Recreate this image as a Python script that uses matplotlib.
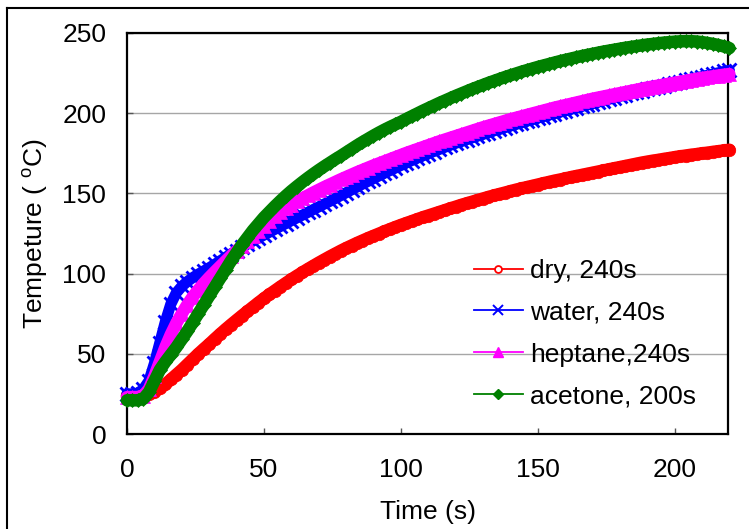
import numpy as np
import matplotlib
matplotlib.use("Agg")
import matplotlib.pyplot as plt
from matplotlib.lines import Line2D

plt.rcParams['font.family'] = ['Liberation Sans', 'DejaVu Sans']
plt.rcParams['mathtext.fontset'] = 'custom'
plt.rcParams['mathtext.rm'] = 'Liberation Sans'
plt.rcParams['mathtext.it'] = 'Liberation Sans:italic'

# time axis, one reading every 2 s
time_s = list(range(0, 222, 2))

dry = [24.0, 24.0, 24.0, 24.3, 25.0, 26.2, 28.5, 31.0, 34.0, 37.0,
       40.0, 43.3, 46.6, 49.9, 53.0, 56.0, 59.2, 62.3, 65.3, 68.2,
       71.0, 73.8, 76.5, 79.2, 81.9, 84.5, 87.0, 89.4, 91.8, 94.1,
       96.4, 98.6, 100.7, 102.8, 104.8, 106.8, 108.7, 110.6, 112.4, 114.2,
       115.9, 117.5, 119.1, 120.6, 122.1, 123.5, 124.9, 126.3, 127.7, 129.0,
       130.3, 131.5, 132.7, 133.9, 135.1, 136.2, 137.3, 138.4, 139.5, 140.6,
       141.7, 142.8, 143.8, 144.8, 145.8, 146.8, 147.8, 148.7, 149.6, 150.5,
       151.4, 152.3, 153.1, 153.9, 154.7, 155.5, 156.3, 157.1, 157.9, 158.6,
       159.3, 160.1, 160.8, 161.5, 162.2, 162.9, 163.6, 164.3, 165.0, 165.7,
       166.4, 167.1, 167.8, 168.5, 169.2, 169.8, 170.4, 170.9, 171.5, 172.0,
       172.6, 173.1, 173.6, 174.1, 174.5, 175.0, 175.4, 175.9, 176.3, 176.8,
       177.2]

water = [25.0, 25.0, 25.5, 28.0, 33.0, 44.0, 57.0, 70.0, 81.0, 88.0,
         92.0, 95.0, 97.5, 99.6, 101.6, 103.6, 105.7, 107.9, 110.1, 112.3,
         114.4, 116.4, 118.4, 120.3, 122.2, 124.0, 125.8, 127.6, 129.4, 131.2,
         133.0, 134.7, 136.4, 138.1, 139.9, 141.6, 143.3, 145.0, 146.8, 148.6,
         150.4, 152.2, 154.0, 155.8, 157.5, 159.2, 160.9, 162.6, 164.2, 165.8,
         167.4, 169.0, 170.5, 172.0, 173.4, 174.8, 176.1, 177.4, 178.7, 180.0,
         181.2, 182.4, 183.5, 184.6, 185.7, 186.8, 187.9, 189.0, 190.0, 191.0,
         192.0, 193.0, 194.0, 195.0, 196.0, 197.0, 197.9, 198.8, 199.7, 200.6,
         201.5, 202.4, 203.3, 204.2, 205.1, 206.0, 206.9, 207.8, 208.7, 209.6,
         210.5, 211.4, 212.3, 213.2, 214.0, 214.8, 215.6, 216.4, 217.2, 218.0,
         218.8, 219.6, 220.4, 221.2, 222.0, 222.8, 223.6, 224.4, 225.2, 226.0,
         226.7]

heptane = [23.0, 23.0, 23.0, 24.0, 28.0, 36.0, 45.0, 54.0, 62.0, 69.0,
           75.0, 80.5, 85.5, 89.8, 93.8, 97.5, 101.0, 104.4, 107.8, 111.1,
           114.3, 117.4, 120.5, 123.6, 126.7, 129.8, 132.8, 135.6, 138.2, 140.7,
           143.0, 145.0, 146.9, 148.7, 150.5, 152.2, 153.9, 155.5, 157.1, 158.7,
           160.2, 161.7, 163.2, 164.6, 166.0, 167.4, 168.7, 170.0, 171.3, 172.6,
           173.9, 175.2, 176.4, 177.6, 178.8, 180.0, 181.2, 182.4, 183.5, 184.6,
           185.7, 186.8, 187.9, 189.0, 190.1, 191.2, 192.2, 193.2, 194.2, 195.2,
           196.2, 197.1, 198.0, 198.9, 199.8, 200.7, 201.6, 202.5, 203.4, 204.2,
           205.0, 205.8, 206.6, 207.4, 208.2, 209.0, 209.7, 210.4, 211.1, 211.8,
           212.5, 213.2, 213.9, 214.6, 215.3, 216.0, 216.6, 217.2, 217.8, 218.4,
           219.0, 219.6, 220.2, 220.8, 221.4, 222.0, 222.5, 223.0, 223.5, 224.0,
           224.4]

acetone = [21.0, 21.0, 21.0, 22.0, 26.0, 33.0, 40.0, 45.0, 49.5, 54.0,
           59.0, 64.0, 69.5, 75.0, 80.5, 86.0, 91.5, 97.0, 102.5, 108.0,
           113.0, 118.0, 122.5, 127.0, 131.0, 135.0, 138.5, 142.0, 145.3, 148.5,
           151.5, 154.3, 157.0, 159.6, 162.1, 164.5, 166.8, 169.0, 171.2, 173.3,
           175.5, 177.7, 179.9, 182.0, 184.0, 186.0, 187.9, 189.7, 191.4, 193.0,
           194.6, 196.4, 198.1, 199.8, 201.5, 203.1, 204.7, 206.3, 207.8, 209.3,
           210.8, 212.2, 213.6, 215.0, 216.3, 217.6, 218.9, 220.1, 221.3, 222.5,
           223.6, 224.7, 225.8, 226.8, 227.8, 228.8, 229.7, 230.6, 231.5, 232.4,
           233.2, 234.0, 234.8, 235.6, 236.3, 237.0, 237.7, 238.4, 239.0, 239.6,
           240.2, 240.8, 241.3, 241.8, 242.3, 242.8, 243.2, 243.6, 244.0, 244.3,
           244.6, 244.8, 244.9, 244.9, 244.7, 244.3, 243.8, 243.2, 242.5, 241.6,
           240.6]

labels = ["dry, 240s", "water, 240s", "heptane,240s", "acetone, 200s"]
colors = ["#ff0000", "#0000ff", "#ff00ff", "#008000"]
x_ticks = [0, 50, 100, 150, 200]
y_ticks = [0, 50, 100, 150, 200, 250]

FS = 19
W, H = 749, 529
fig = plt.figure(figsize=(W / 100, H / 100), dpi=100)
ax = fig.add_axes([127 / W, 1 - 434 / H, 601 / W, 401 / H])

series = [dry, water, heptane, acetone]
# dense markers over a thick line form the broad traces
styles = [
    dict(marker="o", ms=9.0, mfc=colors[0], mec=colors[0], mew=0.5, lw=9.0),
    dict(marker="x", ms=10.0, mfc=colors[1], mec=colors[1], mew=2.0, lw=8.0),
    dict(marker="^", ms=10.0, mfc=colors[2], mec=colors[2], mew=0.5, lw=9.0),
    dict(marker="D", ms=7.5, mfc=colors[3], mec=colors[3], mew=0.5, lw=9.0),
]
for vals, c, st in zip(series, colors, styles):
    ax.plot(time_s, vals, color=c, clip_on=False, zorder=3,
            solid_capstyle="round", solid_joinstyle="round", **st)

ax.set_xlim(0, 219.5)
ax.set_ylim(0, 250)
ax.set_xticks(x_ticks)
ax.set_yticks(y_ticks)
ax.yaxis.grid(True, color="#a6a6a6", lw=1.0, zorder=0)
ax.set_axisbelow(True)
for s in ax.spines.values():
    s.set_linewidth(1.6)
    s.set_color("black")
ax.tick_params(axis="both", direction="in", length=4, width=1.0, color="#555555",
               labelsize=FS)
ax.tick_params(axis="x", pad=17)
ax.tick_params(axis="y", pad=15)

ax.set_xlabel("Time (s)", fontsize=FS)
ax.set_ylabel(r"Tempeture ( $^{\mathrm{o}}$C)", fontsize=FS)
ax.xaxis.set_label_coords(0.5, -0.165)
ax.yaxis.set_label_coords(-0.128, 0.5)

# legend keys: thin line with a small marker
handles = [
    Line2D([], [], color=colors[0], lw=1.3, marker="o", ms=5, mfc="white", mec=colors[0], mew=1.3),
    Line2D([], [], color=colors[1], lw=1.3, marker="x", ms=6.5, mec=colors[1], mew=1.4),
    Line2D([], [], color=colors[2], lw=1.3, marker="^", ms=7, mfc=colors[2], mec=colors[2]),
    Line2D([], [], color=colors[3], lw=1.3, marker="D", ms=5.5, mfc=colors[3], mec=colors[3]),
]
leg = ax.legend(handles, labels, loc="upper left", bbox_to_anchor=(0.577, 0.437),
                frameon=False, fontsize=FS, borderpad=0, borderaxespad=0,
                handlelength=1.86, handletextpad=0.28, labelspacing=0.68)
leg.set_zorder(5)

# outer frame edges
fig.add_artist(Line2D([7 / W, 7 / W], [0, 1 - 8 / H], transform=fig.transFigure,
                      color="black", lw=1.5))
fig.add_artist(Line2D([7 / W, 1], [1 - 8 / H, 1 - 8 / H], transform=fig.transFigure,
                      color="black", lw=1.5))

fig.savefig("out.png", dpi=100)
